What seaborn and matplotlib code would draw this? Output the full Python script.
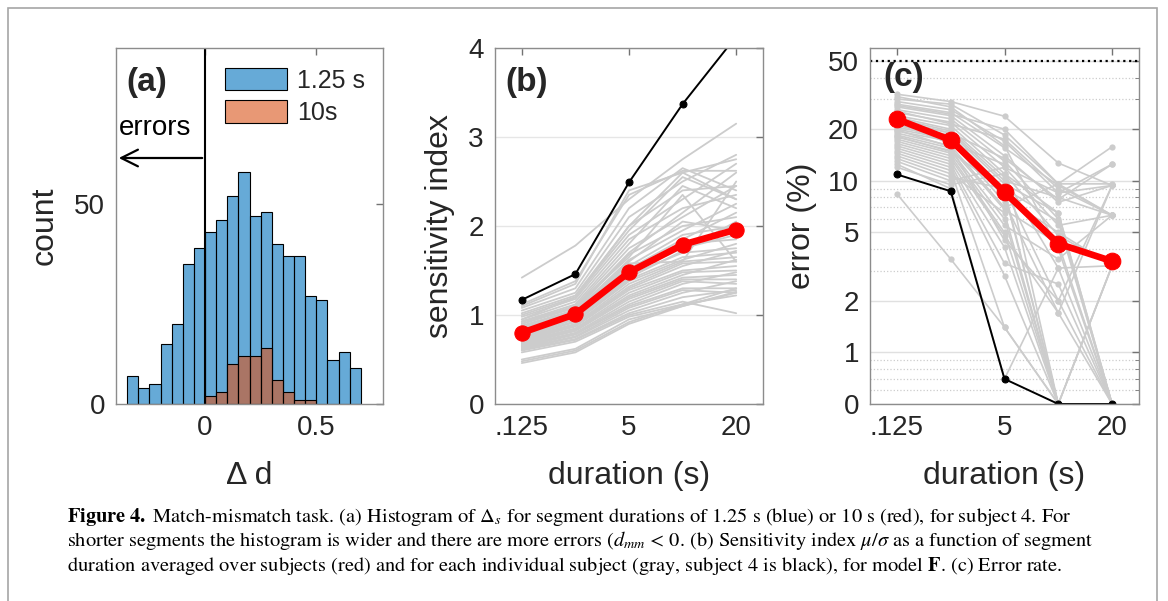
import numpy as np
import pandas as pd
import matplotlib
matplotlib.use('Agg')
import matplotlib.pyplot as plt
from matplotlib.patches import Rectangle
from matplotlib.ticker import NullFormatter, LogLocator
import seaborn as sns

# ---- (a) histogram of delta d, counts per bin
bin_edges = [-0.35, -0.30, -0.25, -0.20, -0.15, -0.10, -0.05, 0.00, 0.05, 0.10, 0.15,
             0.20, 0.25, 0.30, 0.35, 0.40, 0.45, 0.50, 0.55, 0.60, 0.65, 0.70]
counts_125 = [7, 4, 5, 15, 20, 35, 39, 43, 46, 52, 58, 47, 48, 40, 37, 37, 27, 26, 11, 13, 9]
counts_10 = [0, 0, 0, 0, 0, 0, 0, 2, 3, 10, 12, 12, 14, 6, 3, 1, 1, 0, 0, 0, 0]
hist_labels = ['1.25 s', '10s']

# ---- durations (five conditions, only three labelled)
n_dur = 5
dur_ticks = [0, 2, 4]
dur_ticklabels = ['.125', '5', '20']

# ---- (b) sensitivity index
sens_mean = [0.80, 1.01, 1.48, 1.79, 1.96]
sens_subj4 = [1.17, 1.46, 2.49, 3.37, 4.13]
sens_subjects = [
    [1.42, 1.78, 2.30, 2.75, 3.15],
    [1.12, 1.38, 2.35, 2.62, 2.62],
    [1.08, 1.30, 2.20, 2.65, 2.40],
    [1.05, 1.25, 2.10, 2.50, 2.80],
    [1.02, 1.22, 2.00, 2.40, 2.45],
    [1.00, 1.20, 1.95, 2.55, 2.30],
    [0.98, 1.18, 1.90, 2.30, 2.70],
    [0.95, 1.15, 1.85, 2.20, 2.35],
    [0.93, 1.12, 1.80, 2.45, 2.20],
    [0.92, 1.10, 1.75, 2.10, 2.45],
    [0.90, 1.08, 1.70, 2.15, 2.60],
    [0.88, 1.06, 1.68, 2.00, 2.10],
    [0.87, 1.05, 1.62, 1.95, 2.25],
    [0.85, 1.03, 1.60, 2.05, 1.95],
    [0.84, 1.02, 1.55, 1.90, 2.00],
    [0.82, 1.00, 1.52, 1.85, 2.15],
    [0.81, 0.99, 1.50, 1.80, 1.85],
    [0.80, 0.97, 1.48, 1.75, 1.90],
    [0.78, 0.96, 1.45, 1.70, 1.75],
    [0.77, 0.95, 1.42, 1.72, 2.05],
    [0.76, 0.93, 1.40, 1.65, 1.70],
    [0.75, 0.92, 1.38, 1.62, 1.80],
    [0.74, 0.90, 1.35, 1.60, 1.65],
    [0.73, 0.89, 1.32, 1.58, 1.60],
    [0.72, 0.88, 1.30, 1.55, 1.72],
    [0.71, 0.87, 1.28, 1.50, 1.55],
    [0.70, 0.85, 1.25, 1.48, 1.50],
    [0.69, 0.84, 1.22, 1.45, 1.62],
    [0.68, 0.83, 1.20, 1.42, 1.45],
    [0.67, 0.82, 1.18, 1.40, 1.40],
    [0.66, 0.80, 1.15, 1.38, 1.35],
    [0.65, 0.79, 1.12, 1.35, 1.48],
    [0.64, 0.78, 1.10, 1.30, 1.30],
    [0.63, 0.76, 1.08, 1.28, 1.25],
    [0.62, 0.75, 1.05, 1.25, 1.38],
    [0.61, 0.73, 1.02, 1.20, 1.28],
    [0.60, 0.72, 1.00, 1.15, 1.02],
    [0.58, 0.70, 0.98, 1.12, 1.22],
    [0.50, 0.62, 0.95, 1.10, 1.26],
    [0.48, 0.60, 0.92, 1.12, 1.30],
    [0.46, 0.58, 0.90, 1.10, 1.25],
    [1.10, 1.35, 2.40, 2.60, 2.75],
    [0.95, 1.20, 2.00, 2.60, 2.30],
    [0.90, 1.10, 1.65, 2.35, 1.60],
    [0.86, 1.02, 1.58, 1.60, 2.50],
]

# ---- (c) error rate in percent (0 is drawn on the bottom line)
err_mean = [22.9, 17.3, 8.6, 4.3, 3.4]
err_subj4 = [10.9, 8.7, 0.7, 0, 0]
err_subjects = [
    [32, 29, 23.8, 12.7, 9.4],
    [30, 28, 18.5, 9.6, 15.8],
    [29, 26, 17, 8.5, 12.5],
    [28, 25, 15.6, 9.4, 6.3],
    [27, 24, 14, 7.5, 9.4],
    [26, 23, 13, 6.0, 0],
    [25, 22, 12, 5.5, 6.3],
    [24, 21, 11, 4.8, 3.2],
    [23.5, 20, 10.5, 3.1, 0],
    [23, 19.5, 10, 8, 6.3],
    [22, 19, 9.6, 6.5, 0],
    [21, 18.5, 9, 2.0, 9.4],
    [20.5, 18, 8.5, 0, 0],
    [20, 17.5, 8, 5, 3.2],
    [19.5, 17, 7.5, 1.7, 0],
    [19, 16, 7.0, 9.6, 6.3],
    [18.5, 15.5, 6.8, 4.3, 0],
    [18, 15, 6.0, 0, 0],
    [17.5, 14.5, 5.5, 3.5, 6.3],
    [17, 14, 5.0, 0, 0],
    [16.5, 13.5, 4.8, 1.7, 9.4],
    [16, 13, 4.1, 0, 3.2],
    [15.5, 12.5, 3.3, 2.5, 0],
    [15, 12, 2.8, 0, 0],
    [14.5, 11.5, 1.4, 0, 0],
    [14, 11, 6.5, 0, 3.2],
    [13.5, 10.5, 9, 5.8, 0],
    [13, 10, 12, 8.5, 9.4],
    [12, 9.5, 11, 6.5, 0],
    [8.4, 3.5, 1.4, 0, 0],
    [31, 27, 16, 4.0, 0],
    [25.5, 21.5, 17.5, 9.0, 6.3],
    [22.5, 19, 13.5, 7.8, 12.5],
    [21.5, 16.5, 12.5, 0, 3.2],
    [19.8, 15.8, 4.5, 2.0, 0],
    [18.2, 14.8, 8.8, 0, 0],
    [12.5, 9, 0.7, 3.1, 3.2],
    [27.5, 24.5, 20, 9.6, 9.6],
]

caption_lines = [
    r"$\mathbf{Figure\ 4.}\ $Match-mismatch task. (a) Histogram of $\Delta_s$ for segment durations of 1.25 s (blue) or 10 s (red), for subject 4. For",
    r"shorter segments the histogram is wider and there are more errors ($d_{mm}$ < 0. (b) Sensitivity index $\mu/\sigma$ as a function of segment",
    r"duration averaged over subjects (red) and for each individual subject (gray, subject 4 is black), for model $\mathbf{F}$. (c) Error rate.",
]


def long_form(rows):
    recs = []
    for s, row in enumerate(rows):
        for i, v in enumerate(row):
            recs.append((s, i, v))
    return pd.DataFrame(recs, columns=['subject', 'dur', 'value'])


sns.set_style('white')
plt.rcParams['font.family'] = ['Liberation Sans', 'DejaVu Sans']
plt.rcParams['mathtext.fontset'] = 'stix'

TXT = '0.15'
fig = plt.figure(figsize=(11.68, 6.01), dpi=100)
W, H = 1168, 601


def add_ax(left, right, top, bottom):
    return fig.add_axes([left / W, 1 - bottom / H, (right - left) / W, (bottom - top) / H])


ax_a = add_ax(116, 383, 48, 404)
ax_b = add_ax(495, 763, 48, 404)
ax_c = add_ax(870, 1139, 48, 404)

for ax in (ax_a, ax_b, ax_c):
    for sp in ax.spines.values():
        sp.set_color('0.55')
        sp.set_linewidth(1)
    ax.tick_params(direction='in', top=True, right=True, length=5, width=1,
                   color='0.45', labelsize=20, labelcolor=TXT, pad=8)

# ---- (a)
edges = np.array(bin_edges)
centers = (edges[:-1] + edges[1:]) / 2
c10 = np.array(counts_10)
nz = np.nonzero(c10)[0]
sns.histplot(x=list(centers), weights=counts_125, bins=bin_edges, ax=ax_a,
             color=(0, 0.447, 0.741), alpha=0.6, edgecolor='black', linewidth=0.8,
             label=hist_labels[0])
sns.histplot(x=list(centers[nz]), weights=list(c10[nz]),
             bins=list(edges[nz[0]:nz[-1] + 2]), ax=ax_a,
             color=(0.85, 0.325, 0.098), alpha=0.6, edgecolor='black', linewidth=0.8,
             label=hist_labels[1])
ax_a.axvline(0, color='black', lw=1.5)
ax_a.annotate('', xy=(-0.4, 61.5), xytext=(0, 61.5),
              arrowprops=dict(arrowstyle='->', lw=1.6, color='black', mutation_scale=30))
ax_a.text(-0.223, 69, 'errors', fontsize=20, ha='center', va='center', color='black')
ax_a.set_xlim(-0.4, 0.8)
ax_a.set_ylim(0, 89)
ax_a.set_xticks([0, 0.5])
ax_a.set_xticklabels(['0', '0.5'])
ax_a.set_yticks([0, 50])
ax_a.set_xlabel('Δ d', fontsize=23, color=TXT)
ax_a.set_ylabel('count', fontsize=23, color=TXT)
ax_a.text(0.04, 0.904, '(a)', transform=ax_a.transAxes, fontsize=24,
          fontweight='bold', ha='left', va='center')
ax_a.legend(loc='upper left', bbox_to_anchor=(0.408, 0.944), frameon=False,
            fontsize=18, handlelength=2.5, handleheight=1.0, handletextpad=0.4,
            labelspacing=0.3, borderpad=0, borderaxespad=0)

# ---- (b)
df_b = long_form(sens_subjects)
ax_b.yaxis.grid(True, color='0.9', lw=1)
ax_b.set_axisbelow(True)
sns.lineplot(data=df_b, x='dur', y='value', units='subject', estimator=None,
             color='0.8', lw=1.3, ax=ax_b, legend=False)
sns.lineplot(x=list(range(n_dur)), y=sens_subj4, color='black', lw=1.4,
             marker='o', ms=5, mec='black', ax=ax_b)
sns.lineplot(x=list(range(n_dur)), y=sens_mean, color='red', lw=4.8,
             marker='o', ms=11, mec='red', ax=ax_b)
ax_b.set_xlim(-0.5, 4.5)
ax_b.set_ylim(0, 4)
ax_b.set_yticks([0, 1, 2, 3, 4])
ax_b.set_xticks(dur_ticks)
ax_b.set_xticklabels(dur_ticklabels)
ax_b.set_xlabel('duration (s)', fontsize=23, color=TXT)
ax_b.set_ylabel('sensitivity index', fontsize=23, color=TXT)
ax_b.text(0.037, 0.904, '(b)', transform=ax_b.transAxes, fontsize=24,
          fontweight='bold', ha='left', va='center')

# ---- (c)
df_c = long_form(err_subjects)
df_c['shown'] = np.maximum(df_c['value'], 0.5)
ax_c.set_yscale('log')
ax_c.yaxis.grid(True, which='major', color='0.88', lw=1)
ax_c.yaxis.grid(True, which='minor', color='0.8', lw=0.9, ls=':')
ax_c.set_axisbelow(True)
sns.lineplot(data=df_c, x='dur', y='shown', units='subject', estimator=None,
             color='0.8', lw=1.2, marker='o', ms=4.5, mec='none', ax=ax_c, legend=False)
sns.lineplot(x=list(range(n_dur)), y=list(np.maximum(err_subj4, 0.5)), color='black', lw=1.4,
             marker='o', ms=5, mec='black', ax=ax_c)
sns.lineplot(x=list(range(n_dur)), y=err_mean, color='red', lw=4.8,
             marker='o', ms=12, mec='red', ax=ax_c)
ax_c.axhline(50, color='black', ls=':', lw=1.6)
ax_c.set_xlim(-0.5, 4.5)
ax_c.set_ylim(0.5, 59.5)
ax_c.set_yticks([0.5, 1, 2, 5, 10, 20, 50])
ax_c.set_yticklabels(['0', '1', '2', '5', '10', '20', '50'])
ax_c.yaxis.set_minor_locator(LogLocator(base=10, subs=np.arange(2, 10) * 0.1))
ax_c.yaxis.set_minor_formatter(NullFormatter())
ax_c.tick_params(which='minor', direction='in', right=True, length=3, color='0.45')
ax_c.set_xticks(dur_ticks)
ax_c.set_xticklabels(dur_ticklabels)
ax_c.set_xlabel('duration (s)', fontsize=23, color=TXT)
ax_c.set_ylabel('error (%)', fontsize=23, color=TXT)
ax_c.text(0.048, 0.916, '(c)', transform=ax_c.transAxes, fontsize=24,
          fontweight='bold', ha='left', va='center')

# label positions
ax_a.yaxis.set_label_coords(-0.21, 0.5)
ax_b.yaxis.set_label_coords(-0.149, 0.5)
ax_c.yaxis.set_label_coords(-0.197, 0.5)
for ax in (ax_a, ax_b, ax_c):
    ax.xaxis.set_label_coords(0.5, -0.16)

# caption
for k, line in enumerate(caption_lines):
    fig.text(67 / W, 1 - (522 + 24.5 * k) / H, line, fontsize=14.7,
             family='STIXGeneral', ha='left', va='baseline', color='black')

# outer frame
fig.patches.append(Rectangle((8 / W, -0.05), (1157 - 8) / W, 1 - 8 / H + 0.05,
                             transform=fig.transFigure, fill=False, ec='0.65', lw=1.2))

fig.savefig('out.png', dpi=100)
